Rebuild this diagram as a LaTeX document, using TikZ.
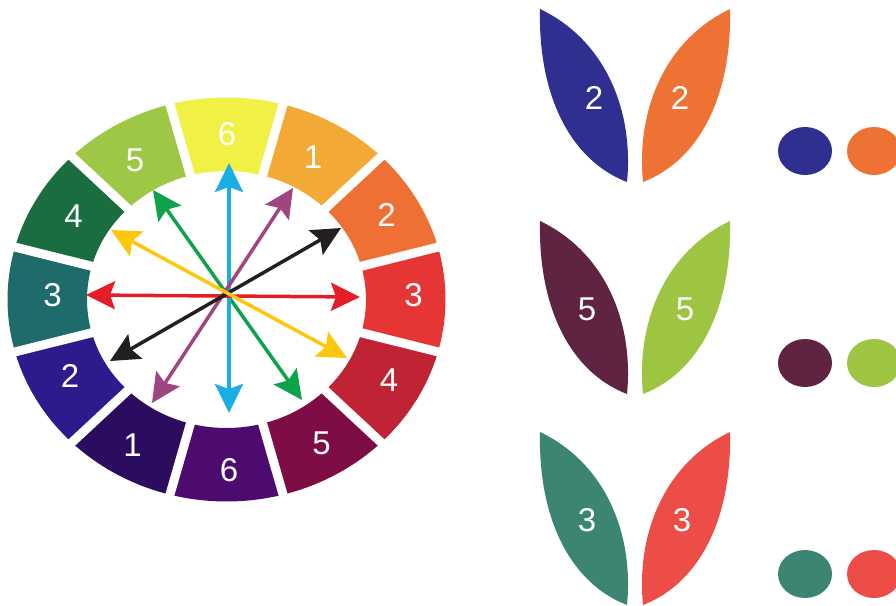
\documentclass[tikz,border=0pt]{standalone}
\usepackage{fontspec}
\setmainfont{Liberation Sans}
\usetikzlibrary{arrows.meta}
% wheel colours
\definecolor{sRed}{HTML}{E63535}
\definecolor{sOrange}{HTML}{EE7034}
\definecolor{sAmber}{HTML}{F3A935}
\definecolor{sYellow}{HTML}{F1F045}
\definecolor{sLime}{HTML}{9DC744}
\definecolor{sGreen}{HTML}{1A6D3F}
\definecolor{sTeal}{HTML}{1F6B6B}
\definecolor{sBlue}{HTML}{2D1B8E}
\definecolor{sIndigo}{HTML}{2B0C5E}
\definecolor{sPurple}{HTML}{4D0B6F}
\definecolor{sMaroon}{HTML}{7E0C45}
\definecolor{sCrimson}{HTML}{BF2334}
% arrow colours
\definecolor{aCyan}{HTML}{1AAEE5}
\definecolor{aRed}{HTML}{E41E26}
\definecolor{aGreen}{HTML}{0EA24A}
\definecolor{aPurple}{HTML}{9F4580}
\definecolor{aBlack}{HTML}{231F20}
\definecolor{aYellow}{HTML}{FDC70E}
% leaf colours
\definecolor{lBlue}{HTML}{2E2F8F}
\definecolor{lOrange}{HTML}{EE7233}
\definecolor{lPlum}{HTML}{5E2442}
\definecolor{lLime}{HTML}{9DC541}
\definecolor{lTeal}{HTML}{3C8573}
\definecolor{lCoral}{HTML}{EC4D46}
\begin{document}
\begin{tikzpicture}[x=1pt,y=-1pt,
  lbl/.style={text=white,font=\fontsize{33}{33}\selectfont,inner sep=0pt},
  arr/.style={line width=3.5pt,
    {Stealth[length=29pt,width=28pt,inset=5pt]}-{Stealth[length=29pt,width=28pt,inset=5pt]}}]
\useasboundingbox (0,0) rectangle (896,605);
\fill[white] (0,0) rectangle (896,605);
\clip (0,0) rectangle (896,605);
\def\cx{226.5}\def\cy{299.5}
% wheel segments
\foreach \a/\c [evaluate=\a as \s using \a-15, evaluate=\a as \e using \a+15] in
  {0/sRed,-30/sOrange,-60/sAmber,-90/sYellow,-120/sLime,-150/sGreen,
  180/sTeal,150/sBlue,120/sIndigo,90/sPurple,60/sMaroon,30/sCrimson}{
  \fill[\c] plot[domain=\s:\e,samples=20] ({\cx+219*cos(\x)},{\cy+202*sin(\x)})
    -- plot[domain=\e:\s,samples=20] ({\cx+139.5*cos(\x)},{\cy+128.5*sin(\x)}) -- cycle;
}
% gaps
\foreach \a in {15,45,...,345}
  \draw[white,line width=9pt] ({\cx+125*cos(\a)},{\cy+115*sin(\a)}) -- ({\cx+240*cos(\a)},{\cy+222*sin(\a)});
% wheel labels
\node[lbl] (w6t) at (227,134) {6};
\node[lbl] (w1t) at (313,157) {1};
\node[lbl] (w2t) at (386.5,215) {2};
\node[lbl] (w3r) at (413.5,295) {3};
\node[lbl] (w4r) at (389,380) {4};
\node[lbl] (w5b) at (321.5,443.5) {5};
\node[lbl] (w6b) at (229,470) {6};
\node[lbl] (w1b) at (132.5,445.5) {1};
\node[lbl] (w2l) at (70,376) {2};
\node[lbl] (w3l) at (52.5,295) {3};
\node[lbl] (w4l) at (73.5,216.5) {4};
\node[lbl] (w5t) at (135,160) {5};
% arrow ends
\coordinate (cyT) at (229,163);   \coordinate (cyB) at (229,413);
\coordinate (rdL) at (86,295);    \coordinate (rdR) at (360,297);
\coordinate (gnT) at (153,190);   \coordinate (gnB) at (302,400);
\coordinate (puT) at (293,188);   \coordinate (puB) at (152,403);
\coordinate (bkT) at (341,228);   \coordinate (bkB) at (110,361);
\coordinate (ylT) at (111,230);   \coordinate (ylB) at (347,358);
\draw[arr,aGreen] (gnT) -- (gnB);
\draw[arr,aCyan] (cyT) -- (cyB);
\draw[arr,aPurple] (puT) -- (puB);
\draw[arr,aRed] (rdL) -- (rdR);
\draw[arr,aBlack] (bkT) -- (bkB);
\draw[arr,aYellow] (ylT) -- (ylB);
% leaves and dots
\foreach \dy/\cl/\cr/\lx/\rx/\ty/\t [count=\i] in
  {0/lBlue/lOrange/594/680/98/2, 212/lPlum/lLime/587/685/97/5, 423/lTeal/lCoral/587/682/97/3}{
  \begin{scope}[shift={(0,\dy)}]
    \fill[\cl] (540,9) .. controls (538,95) and (570,160) .. (627,182)
      .. controls (634,110) and (605,40) .. (540,9) -- cycle;
    \fill[\cr] (730,9) .. controls (732,95) and (700,160) .. (643,182)
      .. controls (636,110) and (665,40) .. (730,9) -- cycle;
    \fill[\cl] (805,151) ellipse [x radius=27,y radius=24];
    \fill[\cr] (874,151) ellipse [x radius=27,y radius=24];
    \node[lbl] (ll\i) at (\lx,\ty) {\t};
    \node[lbl] (lr\i) at (\rx,\ty) {\t};
  \end{scope}
}
\end{tikzpicture}
\end{document}
